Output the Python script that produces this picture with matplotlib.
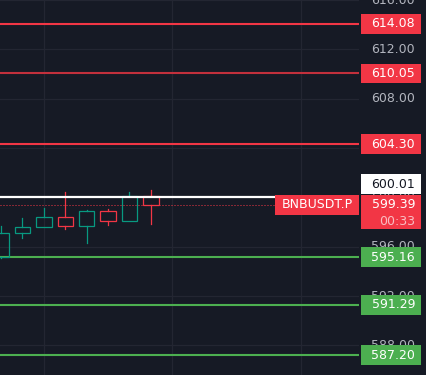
import matplotlib
matplotlib.use('Agg')
import matplotlib.pyplot as plt
from matplotlib.patches import Rectangle
from matplotlib.transforms import blended_transform_factory

# candles (open, high, low, close), oldest first
opens = [595.20, 597.10, 597.58, 598.38, 597.66, 598.86, 598.06, 600.14]
highs = [597.68, 598.32, 599.14, 600.40, 598.96, 599.04, 600.40, 600.56]
lows = [595.06, 596.74, 597.58, 597.46, 596.34, 597.74, 598.06, 597.86]
closes = [597.12, 597.58, 598.38, 597.66, 598.86, 598.06, 600.14, 599.39]

red_levels = [614.08, 610.05, 604.30]
green_levels = [595.16, 591.29, 587.20]
last_price = 599.39
mark_price = 600.01
symbol = 'BNBUSDT.P'
countdown = '00:33'
price_ticks = [588, 592, 596, 600, 604, 608, 612, 616]
time_grid = [2, 8, 14]

BG = '#161a25'
GRID = '#232632'
UP = '#089981'
DOWN = '#f23645'
GREEN = '#4caf50'
TICK = '#b2b5be'

fig = plt.figure(figsize=(4.27, 3.75), dpi=100, facecolor=BG)
ax = fig.add_axes([0, 0, 359 / 427, 1])
ax.set_facecolor(BG)
ax.set_xlim(-0.05, 16.73)
ax.set_ylim(585.6, 615.6)
ax.set_xticks(time_grid)
ax.set_yticks(price_ticks)
ax.grid(True, color=GRID, lw=0.9)
ax.tick_params(length=0, labelbottom=False, labelleft=False)
for s in ax.spines.values():
    s.set_visible(False)

# candles, hollow
for i, (o, h, l, c) in enumerate(zip(opens, highs, lows, closes)):
    col = UP if c >= o else DOWN
    lo, hi = min(o, c), max(o, c)
    ax.add_patch(Rectangle((i - 0.36, lo), 0.72, hi - lo, facecolor='none',
                           edgecolor=col, lw=0.9, zorder=3))
    if h > hi:
        ax.plot([i, i], [hi, h], color=col, lw=0.9, zorder=3)
    if l < lo:
        ax.plot([i, i], [l, lo], color=col, lw=0.9, zorder=3)

# horizontal levels
for k, p in enumerate(red_levels):
    ax.axhline(p, color='#c2303c' if k == 1 else DOWN, lw=1.5, zorder=2)
for p in green_levels:
    ax.axhline(p, color=GREEN, lw=1.5, zorder=2)
ax.axhline(mark_price, color='white', lw=1.6, zorder=4)
ax.axhline(last_price, color=DOWN, lw=0.72, ls=(0, (1, 2)), zorder=2)

tr = blended_transform_factory(ax.transAxes, ax.transData)
bx, bw, bh = 1.0056, 0.168, 1.6
tx = 1.156

# price scale labels
for p in price_ticks:
    ax.text(tx, p, f'{p:.2f}', transform=tr, ha='right', va='center',
            color=TICK, fontsize=9, clip_on=False, zorder=1)


def tag(p, text, fc, tc='white'):
    ax.add_patch(Rectangle((bx, p - bh / 2), bw, bh, transform=tr, facecolor=fc,
                           edgecolor='none', clip_on=False, zorder=6))
    ax.text(tx, p, text, transform=tr, ha='right', va='center', color=tc,
            fontsize=9, clip_on=False, zorder=7)


for p in red_levels:
    tag(p, f'{p:.2f}', DOWN)
for p in green_levels:
    tag(p, f'{p:.2f}', GREEN)

# last price tag with countdown
ax.add_patch(Rectangle((bx, last_price - 1.95), bw, 2.75, transform=tr,
                       facecolor=DOWN, edgecolor='none', clip_on=False, zorder=6))
ax.text(tx, last_price, f'{last_price:.2f}', transform=tr, ha='right', va='center',
        color='white', fontsize=9, clip_on=False, zorder=7)
ax.text(tx, last_price - 1.35, countdown, transform=tr, ha='right', va='center',
        color='#f9bcc1', fontsize=9, clip_on=False, zorder=7)

# mark price tag, pushed up above the last price tag
tag(mark_price + 1.06, f'{mark_price:.2f}', 'white', '#131722')

# symbol tag on the chart
ax.add_patch(Rectangle((0.766, last_price - bh / 2), 0.234, bh, transform=tr,
                       facecolor=DOWN, edgecolor='none', clip_on=False, zorder=6))
ax.text(0.8826, last_price, symbol, transform=tr, ha='center', va='center',
        color='white', fontsize=9, clip_on=False, zorder=7)

fig.savefig('out.png', dpi=100, facecolor=BG)
